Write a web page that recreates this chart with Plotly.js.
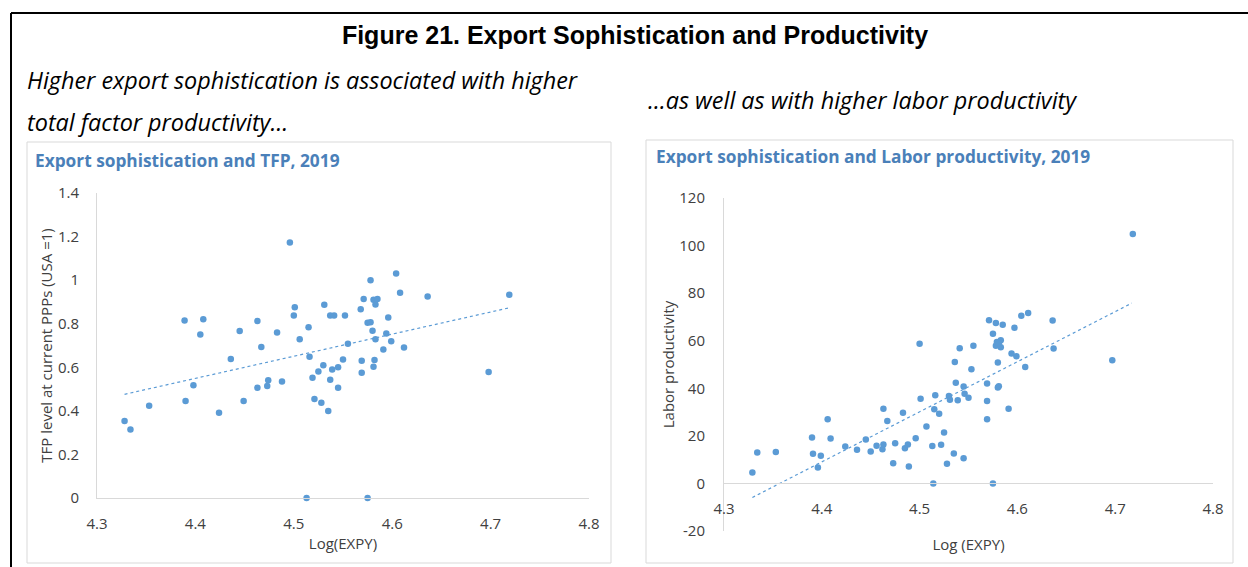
<!DOCTYPE html>
<html>
<head>
<meta charset="utf-8">
<script src="https://cdn.plot.ly/plotly-3.0.1.min.js"></script>
<style>
html,body{margin:0;padding:0;background:#fff;}
#chart{width:1248px;height:567px;}
</style>
</head>
<body>
<div id="chart"></div>
<script>
// ---------- Data ----------
const tfpExpy = [4.496,4.501,4.500,4.531,4.537,4.541,4.552,4.389,4.408,4.405,4.445,4.463,4.483,4.515,4.506,4.467,4.555,4.436,4.516,4.550,4.530,4.525,4.539,4.545,4.519,4.474,4.488,4.463,4.473,4.537,4.545,4.398,4.390,4.449,4.353,4.424,4.521,4.528,4.535,4.328,4.334,4.513,4.604,4.578,4.571,4.581,4.585,4.583,4.608,4.636,4.719,4.568,4.596,4.575,4.578,4.580,4.594,4.583,4.599,4.591,4.612,4.569,4.582,4.581,4.569,4.698,4.575];
const tfpLevel = [1.173,0.876,0.838,0.887,0.838,0.838,0.838,0.815,0.821,0.751,0.766,0.812,0.760,0.784,0.729,0.693,0.708,0.638,0.648,0.636,0.609,0.581,0.590,0.600,0.552,0.541,0.535,0.506,0.514,0.543,0.506,0.517,0.445,0.445,0.423,0.391,0.454,0.437,0.399,0.353,0.315,0,1.031,1.000,0.914,0.910,0.914,0.888,0.942,0.925,0.933,0.866,0.829,0.804,0.807,0.768,0.755,0.729,0.720,0.682,0.691,0.630,0.634,0.602,0.575,0.578,0];
const tfpTrendX = [4.328, 4.719];
const tfpTrendY = [0.476, 0.873];

const lpExpy = [4.329,4.334,4.353,4.390,4.391,4.399,4.396,4.406,4.409,4.424,4.436,4.445,4.450,4.456,4.462,4.463,4.463,4.467,4.475,4.473,4.483,4.485,4.488,4.489,4.496,4.500,4.501,4.507,4.513,4.514,4.515,4.516,4.520,4.522,4.525,4.528,4.530,4.531,4.535,4.536,4.537,4.539,4.541,4.545,4.555,4.553,4.545,4.546,4.550,4.571,4.578,4.585,4.575,4.597,4.604,4.611,4.636,4.579,4.583,4.578,4.583,4.581,4.594,4.599,4.580,4.608,4.637,4.697,4.718,4.569,4.580,4.581,4.569,4.591,4.569,4.575];
const lpLevel = [4.6,13.0,13.2,19.3,12.5,11.6,6.7,27.0,18.9,15.5,14.2,18.5,13.4,15.8,14.4,16.4,31.4,26.2,16.9,8.5,29.7,14.8,16.4,7.1,19.0,58.7,35.6,23.9,15.7,0,31.2,37.1,29.3,16.3,21.4,8.3,36.8,35.2,12.6,51.1,42.3,35.0,56.8,10.6,57.9,48.0,40.8,37.7,36.0,68.6,67.4,66.7,62.9,65.4,70.5,71.7,68.5,59.5,60.2,57.9,57.3,58.9,54.6,53.5,50.8,48.9,56.7,51.8,104.9,42.0,40.3,40.9,34.7,31.4,27.0,0];
const lpTrendX = [4.329, 4.717];
const lpTrendY = [-5.9, 75.8];

const xTicks = [4.3, 4.4, 4.5, 4.6, 4.7, 4.8];
const xTickText = ['4.3','4.4','4.5','4.6','4.7','4.8'];
const tfpTicks = [0, 0.2, 0.4, 0.6, 0.8, 1, 1.2, 1.4];
const tfpTickText = ['0','0.2','0.4','0.6','0.8','1','1.2','1.4'];
const lpTicks = [-20, 0, 20, 40, 60, 80, 100, 120];
const lpTickText = ['-20','0','20','40','60','80','100','120'];

const mainTitle = 'Figure 21. Export Sophistication and Productivity';
const subLeft1 = 'Higher export sophistication is associated with higher';
const subLeft2 = 'total factor productivity…';
const subRight = '…as well as with higher labor productivity';
const panelLeft = 'Export sophistication and TFP, 2019';
const panelRight = 'Export sophistication and Labor productivity, 2019';

// ---------- Layout helpers ----------
const W = 1248, H = 567;
const px = v => v / W;
const py = v => 1 - v / H;

const blue = '#5B9BD5';
const tickColor = '#404040';
const axisLine = '#d9d9d9';
const fontMain = 'Open Sans, Noto Sans, sans-serif';

const y2Range = [-20, 120];
const y2Domain = [py(531), py(198)];
const x2Pos = y2Domain[0] + (0 - y2Range[0]) / (y2Range[1] - y2Range[0]) * (y2Domain[1] - y2Domain[0]);

const traces = [
  {x: tfpExpy, y: tfpLevel, type: 'scatter', mode: 'markers', xaxis: 'x', yaxis: 'y',
   marker: {color: blue, size: 6.5}, cliponaxis: false, hoverinfo: 'x+y'},
  {x: tfpTrendX, y: tfpTrendY, type: 'scatter', mode: 'lines', xaxis: 'x', yaxis: 'y',
   line: {color: blue, width: 1.2, dash: 'dot'}, hoverinfo: 'skip'},
  {x: lpExpy, y: lpLevel, type: 'scatter', mode: 'markers', xaxis: 'x2', yaxis: 'y2',
   marker: {color: blue, size: 6.5}, cliponaxis: false, hoverinfo: 'x+y'},
  {x: lpTrendX, y: lpTrendY, type: 'scatter', mode: 'lines', xaxis: 'x2', yaxis: 'y2',
   line: {color: blue, width: 1.2, dash: 'dot'}, hoverinfo: 'skip'}
];

const axisCommon = {
  showgrid: false, zeroline: false, showline: true, linecolor: axisLine, linewidth: 1,
  ticks: '', tickfont: {family: fontMain, size: 15, color: tickColor},
  fixedrange: true
};
const titleFont = {family: fontMain, size: 15, color: tickColor};

const layout = {
  width: W, height: H,
  margin: {l: 0, r: 0, t: 0, b: 0},
  paper_bgcolor: '#ffffff', plot_bgcolor: 'rgba(0,0,0,0)',
  showlegend: false,
  title: {text: '<b>' + mainTitle + '</b>', x: px(635), xanchor: 'center', y: py(35), yanchor: 'middle',
          font: {family: 'Liberation Sans, Arial, sans-serif', size: 25, color: '#000'}},
  xaxis: Object.assign({}, axisCommon, {
    domain: [px(97), px(589)], range: [4.3, 4.8], anchor: 'y',
    tickvals: xTicks, ticktext: xTickText, ticklabelstandoff: 12,
    title: {text: 'Log(EXPY)', standoff: 6, font: titleFont}
  }),
  yaxis: Object.assign({}, axisCommon, {
    domain: [py(498), py(193)], range: [0, 1.4], anchor: 'x',
    tickvals: tfpTicks, ticktext: tfpTickText, ticklabelstandoff: 14,
    title: {text: 'TFP level at current PPPs (USA =1)', standoff: 1, font: titleFont}
  }),
  xaxis2: Object.assign({}, axisCommon, {
    domain: [px(724), px(1213)], range: [4.3, 4.8], anchor: 'free', position: x2Pos,
    tickvals: xTicks, ticktext: xTickText, ticklabelstandoff: 12,
    title: {text: 'Log (EXPY)', standoff: 22, font: titleFont}
  }),
  yaxis2: Object.assign({}, axisCommon, {
    domain: y2Domain, range: y2Range, anchor: 'x2',
    tickvals: lpTicks, ticktext: lpTickText, ticklabelstandoff: 15,
    title: {text: 'Labor productivity', standoff: 1, font: titleFont}
  }),
  shapes: [
    {type: 'line', xref: 'paper', yref: 'paper', x0: px(11), x1: 1, y0: py(13), y1: py(13), line: {color: '#000', width: 2}},
    {type: 'line', xref: 'paper', yref: 'paper', x0: px(11), x1: px(11), y0: py(13), y1: 0, line: {color: '#000', width: 2}},
    {type: 'rect', xref: 'paper', yref: 'paper', x0: px(27), x1: px(611), y0: py(563), y1: py(142), line: {color: '#d9d9d9', width: 1}},
    {type: 'rect', xref: 'paper', yref: 'paper', x0: px(646), x1: px(1233), y0: py(563), y1: py(140), line: {color: '#d9d9d9', width: 1}}
  ],
  annotations: [
    {text: subLeft1, xref: 'paper', yref: 'paper', x: px(25), y: py(80), xanchor: 'left', yanchor: 'middle', align: 'left',
     showarrow: false, font: {family: fontMain, size: 23.4, style: 'italic', color: '#000'}},
    {text: subLeft2, xref: 'paper', yref: 'paper', x: px(25), y: py(122), xanchor: 'left', yanchor: 'middle', align: 'left',
     showarrow: false, font: {family: fontMain, size: 23.4, style: 'italic', color: '#000'}},
    {text: subRight, xref: 'paper', yref: 'paper', x: px(646), y: py(100), xanchor: 'left', yanchor: 'middle', align: 'left',
     showarrow: false, font: {family: fontMain, size: 23.4, style: 'italic', color: '#000'}},
    {text: '<b>' + panelLeft + '</b>', xref: 'paper', yref: 'paper', x: px(33), y: py(160), xanchor: 'left', yanchor: 'middle',
     showarrow: false, font: {family: fontMain, size: 17.3, color: '#4a80b9'}},
    {text: '<b>' + panelRight + '</b>', xref: 'paper', yref: 'paper', x: px(654), y: py(157), xanchor: 'left', yanchor: 'middle',
     showarrow: false, font: {family: fontMain, size: 17.3, color: '#4a80b9'}}
  ]
};

Plotly.newPlot('chart', traces, layout, {displayModeBar: false});
</script>
</body>
</html>
